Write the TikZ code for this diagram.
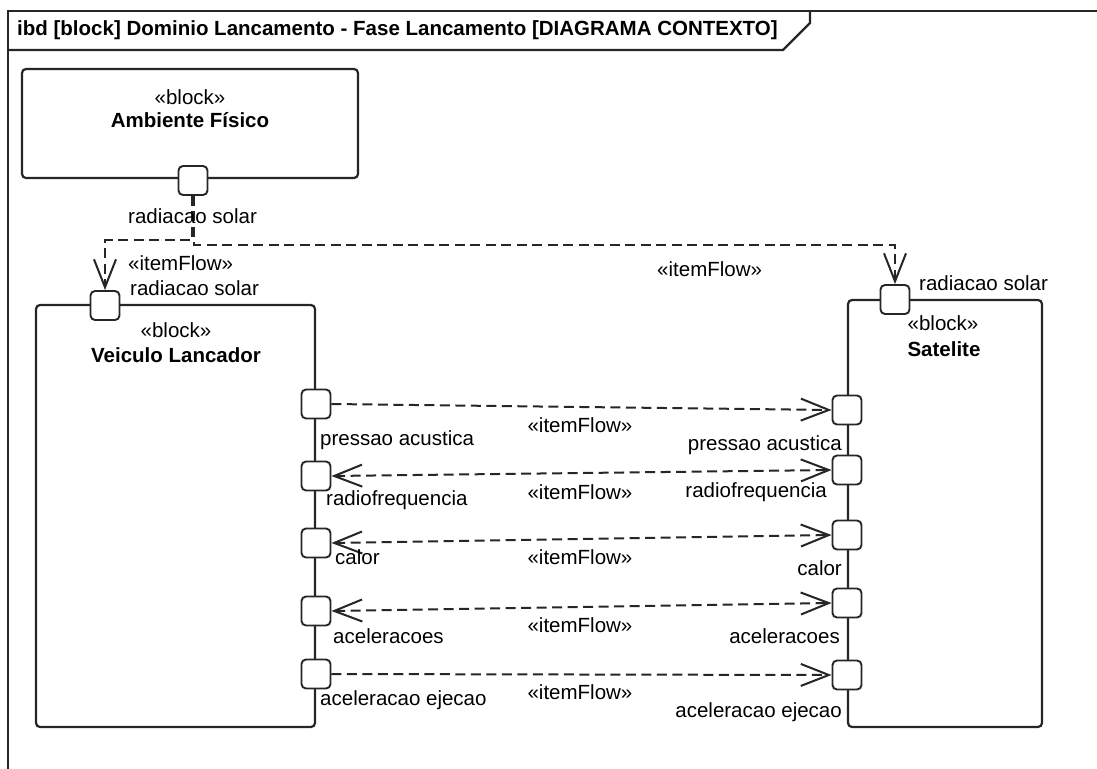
\documentclass[tikz,border=0pt]{standalone}
\usepackage{fontspec}
\setmainfont{Liberation Sans}
\usetikzlibrary{arrows.meta}

\tikzset{
  txt/.style={inner sep=0pt, font=\fontsize{20.5}{24}\selectfont},
  btxt/.style={inner sep=0pt, font=\fontsize{20.5}{24}\selectfont\bfseries},
  blockbox/.style={draw=black!85, line width=2.2pt, rounded corners=4pt, fill=white, inner sep=0pt},
  portbox/.style={draw=black!85, line width=1.9pt, rounded corners=4.5pt, fill=white,
                  minimum width=29pt, minimum height=29pt, inner sep=0pt},
  flow/.style={draw=black!85, line width=2pt, dash pattern=on 10pt off 5.5pt},
  flowtip/.tip={Straight Barb[length=28pt, width=22pt]},
  framebox/.style={draw=black!85, line width=2.2pt}
}

\begin{document}
\begin{tikzpicture}[x=1pt, y=-1pt]
  \useasboundingbox (0,0) rectangle (1097,768);
  \clip (0,0) rectangle (1097,768);
  \fill[white] (0,0) rectangle (1097,768);

  % diagram frame and its header tab
  \draw[framebox] (8,800) -- (8,11) -- (1120,11);
  \draw[framebox] (8,50) -- (783,50) -- (810,23) -- (810,11);
  \node[btxt, anchor=west] (title) at (17,30)
    {ibd [block] Dominio Lancamento - Fase Lancamento [DIAGRAMA CONTEXTO]};

  % blocks
  \node[blockbox, minimum width=336pt, minimum height=109pt] (amb) at (190,123.5) {};
  \node[blockbox, minimum width=279pt, minimum height=422pt] (lv) at (175.5,516) {};
  \node[blockbox, minimum width=194pt, minimum height=427pt] (sat) at (945,513.5) {};

  \node[txt]  (ambst) at (190,97)  {«block»};
  \node[btxt] (ambnm) at (190,120) {Ambiente Físico};
  \node[txt]  (lvst)  at (176,330) {«block»};
  \node[btxt] (lvnm)  at (176,355) {Veiculo Lancador};
  \node[txt]  (satst) at (943,323) {«block»};
  \node[btxt] (satnm) at (944,349) {Satelite};

  % ports
  \node[portbox] (ap)  at (193,180.5) {};
  \node[portbox] (lvp) at (105,305.5) {};
  \node[portbox] (sp)  at (895,299.5) {};

  \node[portbox] (l1) at (316,404) {};
  \node[portbox] (l2) at (316,476) {};
  \node[portbox] (l3) at (316,543) {};
  \node[portbox] (l4) at (316,611) {};
  \node[portbox] (l5) at (316,674) {};

  \node[portbox] (r1) at (847,410) {};
  \node[portbox] (r2) at (847,470) {};
  \node[portbox] (r3) at (847,535) {};
  \node[portbox] (r4) at (847,603) {};
  \node[portbox] (r5) at (847,675) {};

  % item flows from the environment
  \draw[flow, -flowtip] ([xshift=-1pt]ap.south) -- ++(0,44.5) -| (lvp.north);
  \draw[flow, -flowtip] ([xshift=1pt]ap.south) -- ++(0,49.5) -| (sp.north);

  \node[txt, anchor=west] (f0a) at (128,216) {radiacao solar};
  \node[txt, anchor=west] (f0b) at (128,263) {«itemFlow»};
  \node[txt, anchor=west] (f0c) at (130,288) {radiacao solar};
  \node[txt, anchor=west] (f0d) at (657,269) {«itemFlow»};
  \node[txt, anchor=west] (f0e) at (919,283) {radiacao solar};

  % item flows between launcher and satellite
  \draw[flow, -flowtip] (l1.east) -- (r1.west);
  \draw[flow, flowtip-flowtip] (l2.east) -- (r2.west);
  \draw[flow, flowtip-flowtip] (l3.east) -- (r3.west);
  \draw[flow, flowtip-flowtip] (l4.east) -- (r4.west);
  \draw[flow, -flowtip] (l5.east) -- (r5.west);

  \node[txt] (m1) at (580,425) {«itemFlow»};
  \node[txt] (m2) at (580,492) {«itemFlow»};
  \node[txt] (m3) at (580,557) {«itemFlow»};
  \node[txt] (m4) at (580,625) {«itemFlow»};
  \node[txt] (m5) at (580,692) {«itemFlow»};

  \node[txt, anchor=west] (ll1) at (320,440) {pressao acustica};
  \node[txt, anchor=west] (ll2) at (326,500) {radiofrequencia};
  \node[txt, anchor=west] (ll3) at (335,557) {calor};
  \node[txt, anchor=west] (ll4) at (333,636) {aceleracoes};
  \node[txt, anchor=west] (ll5) at (320,700) {aceleracao ejecao};

  \node[txt, anchor=east] (rl1) at (842,445) {pressao acustica};
  \node[txt, anchor=east] (rl2) at (827,492) {radiofrequencia};
  \node[txt, anchor=east] (rl3) at (842,568) {calor};
  \node[txt, anchor=east] (rl4) at (840,636) {aceleracoes};
  \node[txt, anchor=east] (rl5) at (842,712) {aceleracao ejecao};
\end{tikzpicture}
\end{document}
